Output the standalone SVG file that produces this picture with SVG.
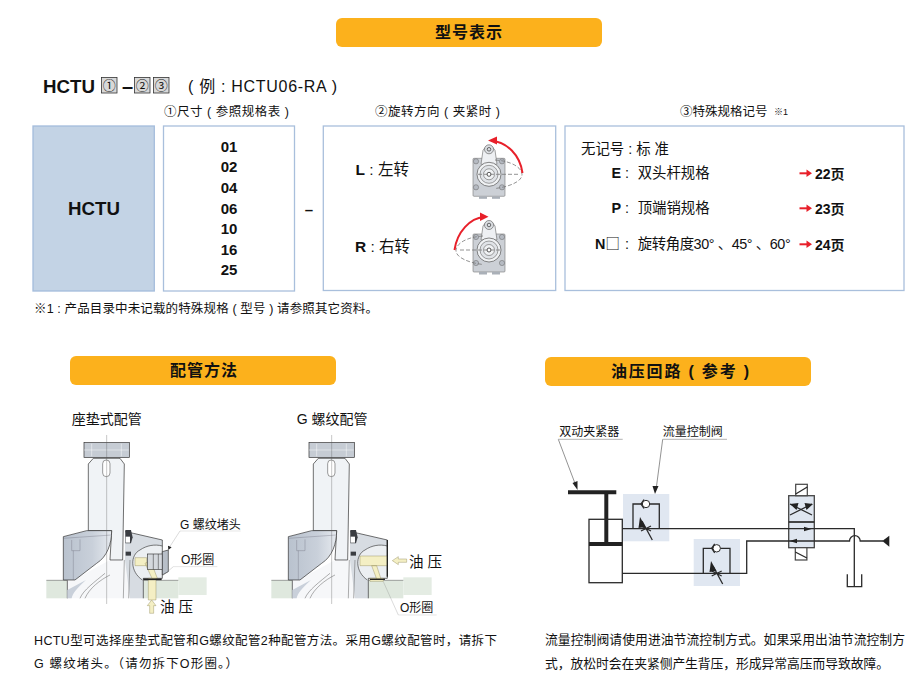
<svg xmlns="http://www.w3.org/2000/svg" width="922" height="681" viewBox="0 0 922 681">
<style>
text{font-family:"Liberation Sans","Noto Sans CJK SC",sans-serif;fill:#111}
.h{font-size:16px;font-weight:700;text-anchor:middle}
.b{font-weight:700}
.l{font-size:12.5px}
.s{font-size:14.4px}
.c{font-size:15px;font-weight:700;text-anchor:middle}
.a{font-size:12px}
.box{fill:#fff;stroke:#a9bfdc;stroke-width:1.3}
.hb{fill:#fcb11c}
.sq{fill:#d8d8d8;stroke:#333;stroke-width:.8}
.ra{fill:none;stroke:#e8202a;stroke-width:2}
.ln{fill:none;stroke:#2a2a2a;stroke-width:1.300}
.ld{fill:none;stroke:#777;stroke-width:.8}
.ul{fill:none;stroke:#aaa;stroke-width:.9}
.t{fill:none;stroke:#555;stroke-width:1}
.y{fill:#f4efc4;stroke:#8a8450;stroke-width:1.2}
.k{fill:#222}
.panel{fill:#e0e7f1}
</style>
<defs>
<linearGradient id="armg" x1="0" x2="1" y1="0" y2="0"><stop offset="0" stop-color="#b9c2ce"/><stop offset=".6" stop-color="#c9d0da"/><stop offset="1" stop-color="#e6eaef"/></linearGradient>
<g id="mini">
<rect x="-16" y="-16" width="32" height="38" rx="1" fill="#ccd0d6" stroke="#777" stroke-width=".6"/>
<rect x="-10" y="22" width="8" height="2.500" fill="#aab0b8"/><rect x="3" y="22" width="8" height="2.500" fill="#aab0b8"/>
<g fill="#b5bac2" stroke="#666" stroke-width=".5"><circle cx="-13" cy="-13" r="2.600"/><circle cx="13" cy="-13" r="2.600"/><circle cx="-13" cy="13" r="2.600"/><circle cx="13" cy="13" r="2.600"/></g>
<path d="M-8 -10L-6 -24A6.500 6.500 0 0 1 6 -24L8 -10Z" fill="#eef0f3" stroke="#666" stroke-width=".6"/>
<circle cy="-25" r="4.500" fill="#dcdfe3" stroke="#555" stroke-width=".6"/><circle cy="-25" r="1.800" fill="none" stroke="#333" stroke-width=".7"/>
<circle r="12" fill="#f0f2f4" stroke="#555" stroke-width=".7"/><circle r="9" fill="#e0e3e7" stroke="#666" stroke-width=".6"/><circle r="5.500" fill="#f0f2f4" stroke="#666" stroke-width=".6"/><circle r="2" fill="#fff" stroke="#333" stroke-width=".8"/>
</g>
<g id="sec">
<rect x="49" y="541" width="63" height="54" fill="#dfe8de"/>
<rect x="340" y="541" width="105" height="54" fill="#dfe8de"/>
<rect x="445" y="532" width="85" height="53" fill="#e4ece3"/>
<path d="M49 541H112M340 541H445" fill="none" stroke="#555" stroke-width="1.600"/>
<path d="M112 541V595H340V535H397V420L310 400L285 395L283 480H240L130 540Z" fill="#f6f7f9"/>
<path d="M285 395L310 400L397 420V535H340V595H300L285 480Z" fill="#d7dce2"/>
<path d="M337 540C300 515 300 465 330 450C350 436 375 432 397 438V535H340Z" fill="#eceff2"/>
<path d="M112 595V541M340 595V535H397V420L310 400L285 395" fill="none" stroke="#2a2a2a" stroke-width="2"/>
<path d="M337 540C300 515 300 465 330 450C350 436 375 432 397 438" fill="none" stroke="#2a2a2a" stroke-width="1.800"/>
<path d="M112 595V570L168 540C140 565 128 580 125 595Z" fill="#c9d0da"/>
<path d="M300 480L296 595M283 480L280 595M150 595C160 570 195 545 225 520M165 595C178 565 210 540 240 525" fill="none" stroke="#555" stroke-width="1.400"/>
<path d="M190 175L175 192V392H245L240 480H278L283 192L270 175Z" fill="#f0f3f6" stroke="#2a2a2a" stroke-width="2"/>
<path d="M100 410L170 392H245C245 430 232 470 200 490L135 540H100Z" fill="url(#armg)" stroke="#2a2a2a" stroke-width="2"/>
<path d="M100 415L245 405M125 420V452H150V418M130 452V540" fill="none" stroke="#667" stroke-width="1"/>
<rect x="162" y="128" width="136" height="44" fill="#c6ccd4" stroke="#2a2a2a" stroke-width="2"/>
<path d="M185 131V169M274 131V169M162 150H296" stroke="#fff" stroke-width="1.400" fill="none"/>
<rect x="218" y="180" width="22" height="50" rx="11" fill="#fff" stroke="#444" stroke-width="1.600"/>
<path d="M286 390H303L308 412L303 430H286Z" fill="#3a3d42"/>
<rect x="287" y="410" width="13" height="18" fill="#fff"/>
<rect x="287" y="455" width="16" height="12" fill="#3a3d42"/>
<path d="M230 105V612" stroke="#555" stroke-width="1" fill="none"/>
</g>
</defs>

<g id="head-model"><rect class="hb" x="336" y="18" width="266" height="29" rx="6"/><text class="h" x="469" y="38" letter-spacing="1">型号表示</text></g>

<g id="title">
<text x="43" y="93.300" font-size="18.700" class="b">HCTU</text>
<rect class="sq" x="101.500" y="77.500" width="15.500" height="15.500"/><text x="109.200" y="90" font-size="13" text-anchor="middle">①</text>
<text x="127.500" y="93" font-size="20" class="b" text-anchor="middle">–</text>
<rect class="sq" x="134.500" y="77.500" width="15.500" height="15.500"/><text x="142.200" y="90" font-size="13" text-anchor="middle">②</text>
<rect class="sq" x="153.500" y="77.500" width="15.500" height="15.500"/><text x="161.200" y="90" font-size="13" text-anchor="middle">③</text>
<text x="188" y="92" font-size="16" textLength="149">( 例 : HCTU06-RA )</text>
</g>

<text class="l" x="164" y="116" textLength="125">①尺寸 ( 参照规格表 )</text>
<text class="l" x="375" y="116" textLength="125">②旋转方向 ( 夹紧时 )</text>
<text class="l" x="680" y="116">③特殊规格记号</text>
<text x="774" y="115" font-size="9">※1</text>

<g id="node-hctu"><rect x="33" y="126" width="121.300" height="165" fill="#c3d3e5" stroke="#a4bcdc" stroke-width="1.300"/><text x="94" y="215" font-size="18.700" class="b" text-anchor="middle">HCTU</text></g>
<g id="node-size"><rect class="box" x="163.500" y="126" width="131" height="165"/>
<text class="c" x="229" y="152">01</text><text class="c" x="229" y="172.300">02</text><text class="c" x="229" y="193">04</text><text class="c" x="229" y="213.500">06</text><text class="c" x="229" y="234.200">10</text><text class="c" x="229" y="254.700">16</text><text class="c" x="229" y="275.200">25</text></g>
<text x="309" y="215" font-size="15" class="b" text-anchor="middle">–</text>

<g id="node-rotation"><rect class="box" x="323.300" y="126" width="232.400" height="164.500"/>
<text x="355.500" y="175" font-size="15.500"><tspan class="b">L</tspan> : 左转</text>
<text x="355" y="252" font-size="15.500"><tspan class="b">R</tspan> : 右转</text>
<use href="#mini" x="489" y="174.300"/>
<path d="M495 160C512 161 522 168 522 174.500C522 182 508 187 495 188.500M478 174.300H520" fill="none" stroke="#777" stroke-width=".8" stroke-dasharray="4 2"/>
<path class="ra" d="M522.500 173C520 155 507 142 491 140.500"/><path d="M488 140.500L497 136.500V144.500Z" fill="#e8202a"/>
<use href="#mini" x="489" y="250"/>
<path d="M483 236C466 237 456 244 456 250.500C456 258 470 263 483 264.500M500 250H458" fill="none" stroke="#777" stroke-width=".8" stroke-dasharray="4 2"/>
<path class="ra" d="M454.500 250C457 232 470 218 484 217"/><path d="M488.500 216.700L480 212.500V221Z" fill="#e8202a"/>
</g>

<g id="node-special"><rect class="box" x="565" y="126" width="339" height="164.500"/>
<text class="s" x="581" y="154">无记号 : 标 准</text>
<text class="s" x="611.500" y="178"><tspan class="b">E</tspan></text><text class="s" x="625" y="178">:</text><text class="s" x="637.700" y="178">双头杆规格</text>
<text class="s" x="611.500" y="213"><tspan class="b">P</tspan></text><text class="s" x="625" y="213">:</text><text class="s" x="637.700" y="213">顶端销规格</text>
<text class="s" x="595" y="249"><tspan class="b">N</tspan><tspan style="font-family:'Noto Sans CJK SC',sans-serif">□</tspan></text><text class="s" x="625" y="249">:</text><text class="s" x="637.700" y="249" textLength="153">旋转角度30° 、45° 、60°</text>
<g><path class="ra" d="M799.500 173.300H808"/><path d="M812 173.300L806.500 169.500V177Z" fill="#e8202a"/><path class="ra" d="M799.500 208.300H808"/><path d="M812 208.300L806.500 204.500V212Z" fill="#e8202a"/><path class="ra" d="M799.500 244.300H808"/><path d="M812 244.300L806.500 240.500V248Z" fill="#e8202a"/></g>
<text x="815" y="179" font-size="14" class="b">22页</text><text x="815" y="214" font-size="14" class="b">23页</text><text x="815" y="250" font-size="14" class="b">24页</text>
</g>

<text class="l" x="34" y="313" textLength="344">※1 : 产品目录中未记载的特殊规格 ( 型号 ) 请参照其它资料。</text>

<g id="head-piping"><rect class="hb" x="70" y="356" width="266" height="29" rx="6"/><text class="h" x="204" y="376" letter-spacing="1">配管方法</text></g>
<g id="head-circuit"><rect class="hb" x="545" y="357" width="266" height="29" rx="6"/><text class="h" x="680" y="377" textLength="138">油压回路 ( 参考 )</text></g>

<text x="71.700" y="424" font-size="14">座垫式配管</text>
<text x="296.700" y="424" font-size="14">G 螺纹配管</text>

<g id="section-seat">
<g transform="translate(30 400) scale(.3333)">
<use href="#sec"/>
<path class="y" d="M355 535H378V600H355ZM345 490L362 482L382 535H366ZM315 473H350V497H315Z"/>
<rect x="352" y="462" width="46" height="46" fill="#d5d9de" stroke="#2a2a2a" stroke-width="1.800"/>
<path d="M370 462V508M385 462V508" stroke="#2a2a2a" stroke-width="1.500" fill="none"/>
<path d="M397 455L415 450V515L397 525Z" fill="#b8bfc8" stroke="#2a2a2a" stroke-width="2"/>
<path d="M340 538H395" stroke="#222" stroke-width="5"/>
<path class="y" d="M365 600L352 617H359V640H371V617H378Z"/>
<path class="ld" stroke-width="2" d="M450 393L415 447M430 500L395 530"/>
<path d="M415 450L414 437L425 442Z" class="k"/>
<path class="ul" stroke-width="2.500" d="M450 393H632M430 500H562"/>
</g>
<text x="180" y="529.300" class="a">G 螺纹堵头</text>
<text x="181" y="564" class="a">O形圈</text>
<text x="160" y="612.300" font-size="14.500">油 压</text>
</g>

<g id="section-thread">
<g transform="translate(255 400) scale(.3333)"><use href="#sec"/></g>
<g transform="translate(260 400) scale(.3333)">
<path class="y" d="M300 468H382V497H300ZM335 497H350L363 537H350ZM330 535H370V544H330Z"/>
<path d="M382 420V530" stroke="#222" stroke-width="4"/>
<path d="M330 538H375" stroke="#222" stroke-width="4"/>
<path class="y" d="M397 482L415 470V477H440V487H415V494Z"/>
<path class="ld" stroke-width="2" d="M415 645L370 545"/>
<path class="ul" stroke-width="2.500" d="M415 645H530"/>
</g>
<text x="409" y="566.700" font-size="14.500">油 压</text>
<text x="400" y="611.700" class="a">O形圈</text>
</g>

<text x="34" y="645" class="l" textLength="463">HCTU型可选择座垫式配管和G螺纹配管2种配管方法。采用G螺纹配管时，请拆下</text>
<text x="34" y="668" class="l" textLength="204">G 螺纹堵头。（请勿拆下O形圈。）</text>

<g id="node-cylinder">
<path d="M568 492.300H616.300" stroke="#222" stroke-width="4"/>
<path d="M606.300 492V543" stroke="#222" stroke-width="4"/>
<rect x="589" y="519.300" width="33.300" height="63.400" fill="none" stroke="#2a2a2a" stroke-width="1.300"/>
<path d="M589 544H622.300" stroke="#222" stroke-width="4"/>
</g>
<g id="node-flow1">
<rect class="panel" x="623" y="494" width="46.300" height="47.300"/>
<path class="ln" d="M633 528.300V504H659.300V528.300"/>
<circle cx="646" cy="504" r="3.700" fill="#fff" stroke="#2a2a2a" stroke-width="1"/>
<path class="ln" d="M644 499.500L641 504L644 508.500"/>
<path class="ln" d="M652.300 540L642 521M641 526L651 531M641 531L651 526"/>
<path class="k" d="M640 517L645.500 527L638.500 528Z"/>
</g>
<g id="node-flow2">
<rect class="panel" x="693.700" y="539" width="46.300" height="47"/>
<path class="ln" d="M703.300 573.300V548.300H730V573.300"/>
<circle cx="716.700" cy="548.300" r="3.700" fill="#fff" stroke="#2a2a2a" stroke-width="1"/>
<path class="ln" d="M714.700 543.800L711.700 548.300L714.700 552.800"/>
<path class="ln" d="M722.700 584L713 566M711.700 571L721.700 576M711.700 576L721.700 571"/>
<path class="k" d="M711 561L716.500 571L709.500 572Z"/>
</g>
<g id="node-valve">
<rect x="788.700" y="495.700" width="25.600" height="52" fill="#dfe6f0" stroke="#444" stroke-width="1.300"/>
<path d="M788.700 522H814.300" stroke="#333" stroke-width="1.800"/>
<rect x="795.700" y="484.300" width="11.600" height="11.400" fill="#fff" stroke="#444" stroke-width="1.200"/>
<path class="ln" d="M795.700 494L807.300 487"/>
<rect x="795.300" y="547.700" width="11.600" height="12.300" fill="#fff" stroke="#444" stroke-width="1.200"/>
<path class="ln" d="M795.300 552L806.900 558"/>
<path class="ln" d="M790 515L812 504M812 515L790 504"/>
<path class="k" d="M790 504L798.500 503L796.500 510ZM813 504L804.500 503L806.500 510Z"/>
</g>
<g id="node-tank"><path class="ln" d="M847.300 574.300V586.700H861.700V574.300"/></g>
<g id="node-port"><path class="k" d="M882.300 541L889.300 535.700V546.700Z"/></g>

<g id="connectors">
<path class="ln" d="M622.300 528.700H854.300V586.700"/>
<path class="ln" d="M622.300 573.300H746.700V541H849.500A5.300 5.300 0 0 1 860.200 541H883"/>
<path class="k" d="M811.500 529L804 526.700V531.300ZM789.500 541L797 538.700V543.300Z"/>
<path class="ld" d="M558.300 439.300L576 486"/><path class="k" d="M577.500 490L572.500 483L577.500 481Z"/>
<path class="ld" d="M662.700 439.300L656 490"/><path class="k" d="M655 494L652.500 486H658.500Z"/>
<path class="ul" d="M558 439.300H622.700M662.700 439.300H727"/>
</g>
<text x="559.300" y="436" class="a">双动夹紧器</text>
<text x="662.700" y="436" class="a">流量控制阀</text>

<text x="545" y="644" font-size="12.800" textLength="360">流量控制阀请使用进油节流控制方式。如果采用出油节流控制方</text>
<text x="545" y="668" font-size="12.800" textLength="344">式，放松时会在夹紧侧产生背压，形成异常高压而导致故障。</text>
</svg>
